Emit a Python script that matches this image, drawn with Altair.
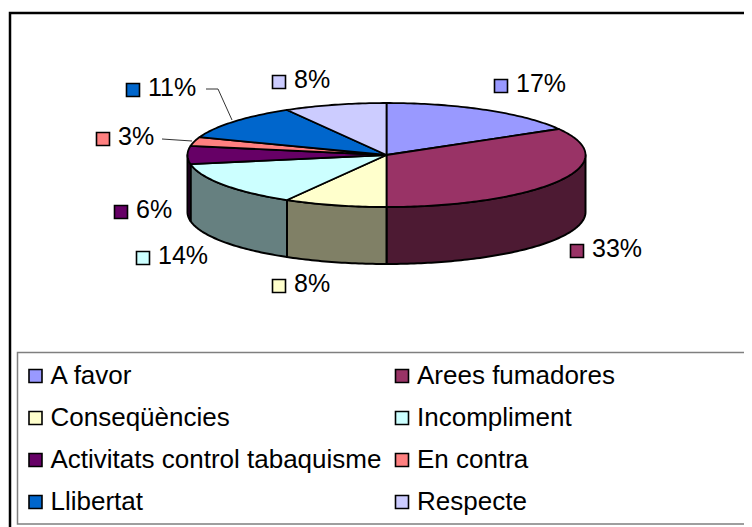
import math
import altair as alt
import pandas as pd

# ---- data ----
names = ["A favor", "Arees fumadores", "Conseqüències", "Incompliment",
         "Activitats control tabaquisme", "En contra", "Llibertat", "Respecte"]
counts = [6, 12, 3, 5, 2, 1, 4, 3]
top_colors = ["#9999FF", "#993366", "#FFFFCC", "#CCFFFF",
              "#660066", "#FF8080", "#0066CC", "#CCCCFF"]
side_colors = ["#4D4D80", "#4D1A33", "#808066", "#668080",
               "#330033", "#804040", "#003366", "#666680"]
# the legend fills column by column; the reference reads across rows
legend_order = [0, 2, 4, 6, 1, 3, 5, 7]

# ---- layout (page pixels) ----
CX, CY, RX, RY, DEPTH = 386.5, 155, 199, 52, 57
OFFSET = 8
label_squares = [(501, 86), (577, 251), (279, 286), (143, 258),
                 (121, 212), (103, 139), (133, 90), (279, 82)]
LABEL_GAP = 15
leaders = [[(206, 89), (218, 89), (232, 120)], [(162, 139), (192, 141)]]
frame_line = [(10, 527), (10, 13), (752, 13)]
shadow_line = [(8, 527), (8, 14)]
legend_line = [(752, 352.5), (17.5, 352.5), (17.5, 524), (752, 524)]


def pt(x, y):
    return [x - OFFSET, y - OFFSET]


def rim(deg, dy=0):
    a = math.radians(deg)
    return pt(CX + RX * math.sin(a), CY - RY * math.cos(a) + dy)


def arc(d1, d2, dy=0):
    n = max(2, int(abs(d2 - d1)) + 1)
    return [rim(d1 + (d2 - d1) * i / (n - 1), dy) for i in range(n)]


def feature(kind, coords, **props):
    return {"type": "Feature", "properties": props,
            "geometry": {"type": kind, "coordinates": coords}}


total = sum(counts)
tops, walls = [], []
cum = 0.0
for name, c, side in zip(names, counts, side_colors):
    d1, d2 = cum / total * 360, (cum + c) / total * 360
    cum += c
    ring = [pt(CX, CY)] + arc(d1, d2) + [pt(CX, CY)]
    tops.append(feature("Polygon", [ring], name=name))
    w1, w2 = max(d1, 90), min(d2, 270)
    if w2 > w1:
        outer = arc(w1, w2)
        lower = arc(w2, w1, DEPTH)
        walls.append(feature("Polygon", [outer + lower + [outer[0]]], shade=side))

W, H = 736, 519
projection = dict(type="identity", scale=1, translate=[0, 0])

frame = alt.Chart(alt.Data(values=[
    feature("LineString", [pt(*q) for q in frame_line], c="#000000", w=2.5),
    feature("LineString", [pt(*q) for q in shadow_line], c="#C0C0C0", w=1.5),
    feature("LineString", [pt(*q) for q in legend_line], c="#7F7F7F", w=1.5),
] + [feature("LineString", [pt(*q) for q in l], c="#333333", w=1) for l in leaders])
).mark_geoshape(fill=None, filled=False).encode(
    stroke=alt.Stroke("properties.c:N", scale=None),
    strokeWidth=alt.StrokeWidth("properties.w:Q", scale=None),
)

wall_layer = alt.Chart(alt.Data(values=walls)).mark_geoshape(
    stroke="black", strokeWidth=2, strokeJoin="round"
).encode(fill=alt.Fill("properties.shade:N", scale=None))

top_layer = alt.Chart(alt.Data(values=tops)).mark_geoshape(
    stroke="black", strokeWidth=1.8, strokeJoin="round"
).encode(
    color=alt.Color(
        "properties.name:N",
        scale=alt.Scale(domain=[names[i] for i in legend_order],
                        range=[top_colors[i] for i in legend_order]),
        legend=alt.Legend(
            title=None, orient="none", legendX=21.5 - OFFSET + 1, legendY=363 - OFFSET,
            columns=2, padding=0, symbolType="square", symbolSize=169,
            symbolStrokeColor="black", symbolStrokeWidth=1.6,
            labelFont="Liberation Sans", labelFontSize=26, labelColor="black",
            labelLimit=500, labelOffset=2, columnPadding=7.5, rowPadding=16,
            symbolOffset=0,
        ),
    )
)

labels = pd.DataFrame({
    "lon": [pt(*q)[0] for q in label_squares],
    "lat": [pt(*q)[1] for q in label_squares],
    "text_lon": [pt(*q)[0] + LABEL_GAP for q in label_squares],
    "fill": top_colors,
    "text": [f"{round(c / total * 100)}%" for c in counts],
})
squares = alt.Chart(labels).mark_square(
    size=169, opacity=1, stroke="black", strokeWidth=1.6, filled=True
).encode(longitude="lon:Q", latitude="lat:Q", fill=alt.Fill("fill:N", scale=None))
texts = alt.Chart(labels).mark_text(
    font="Liberation Sans", fontSize=25, align="left", baseline="middle", color="black", dy=-2
).encode(longitude="text_lon:Q", latitude="lat:Q", text="text:N")

chart = alt.layer(frame, wall_layer, top_layer, squares, texts).project(**projection).properties(
    width=W, height=H, padding=0, background="white"
).configure_view(stroke=None)

chart.save("out.html", embed_options={"renderer": "svg", "actions": False})
